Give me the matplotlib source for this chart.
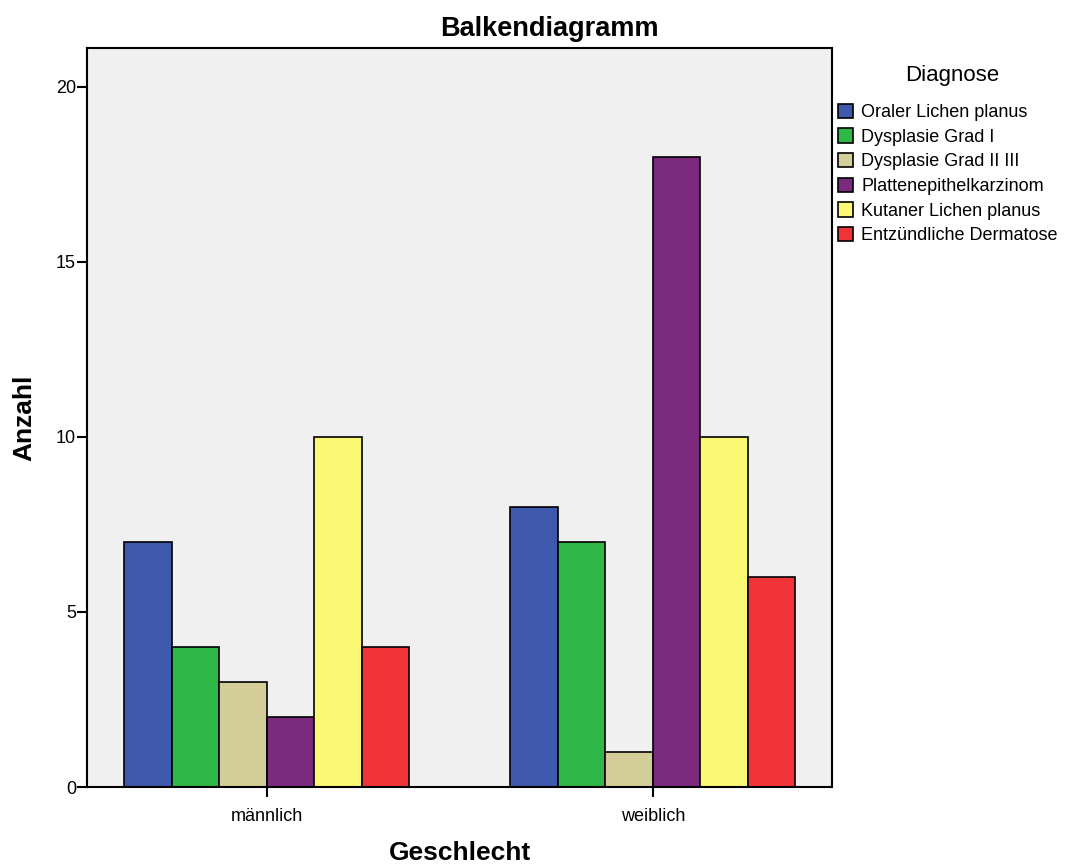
import matplotlib
matplotlib.use("Agg")
import matplotlib.pyplot as plt
import numpy as np
from matplotlib.patches import Patch

plt.rcParams['font.family'] = ['Liberation Sans', 'DejaVu Sans']

groups = ["männlich", "weiblich"]
diagnoses = ["Oraler Lichen planus", "Dysplasie Grad I", "Dysplasie Grad II III",
             "Plattenepithelkarzinom", "Kutaner Lichen planus", "Entzündliche Dermatose"]
counts_m = [7, 4, 3, 2, 10, 4]
counts_w = [8, 7, 1, 18, 10, 6]
colors = ["#3e58ac", "#2eb848", "#d3ce97", "#7c2a7e", "#fbf873", "#ef3338"]

fig = plt.figure(figsize=(10.72, 8.66), dpi=100)
ax = fig.add_axes([87/1072, 1-787/866, (832-87)/1072, (787-48)/866])
ax.set_facecolor("#f0f0f0")

x = np.arange(len(groups))
w = 0.123
n = len(diagnoses)
for i, (d, c) in enumerate(zip(diagnoses, colors)):
    vals = [counts_m[i], counts_w[i]]
    ax.bar(x + (i - (n-1)/2)*w, vals, width=w, color=c, edgecolor="black", linewidth=1.2, label=d, zorder=2)

ax.set_xlim(-0.466, 1.464)
ax.set_ylim(0, 21.11)
ax.set_yticks([0, 5, 10, 15, 20])
ax.set_xticks(x)
ax.set_xticklabels(groups)
ax.tick_params(axis='both', labelsize=13, length=7, width=1.5, direction='out', pad=1)
ax.tick_params(axis='x', pad=8)
for s in ax.spines.values():
    s.set_linewidth(1.5)

ax.set_title("Balkendiagramm", fontsize=19.5, fontweight='bold', x=(549-87)/745, y=(787-29)/739,
             va='center', pad=0)
ax.set_xlabel("Geschlecht", fontsize=19, fontweight='bold', va='center')
ax.xaxis.set_label_coords(0.5, (787-853)/739)
ax.set_ylabel("Anzahl", fontsize=19, fontweight='bold', va='center')
ax.yaxis.set_label_coords((24-87)/745, (787-418)/739)

fig.text(952/1072, 1-76/866, "Diagnose", fontsize=16, ha='center', va='center')
handles = [Patch(facecolor=c, edgecolor="black", linewidth=1.2) for c in colors]
leg = fig.legend(handles, diagnoses, loc="upper left",
                 bbox_to_anchor=(834/1072, 1-100/866), frameon=False, fontsize=13,
                 handlelength=0.85, handleheight=0.85, handletextpad=0.45,
                 labelspacing=0.40, borderaxespad=0, borderpad=0.2)

fig.savefig("out.png", dpi=100)
